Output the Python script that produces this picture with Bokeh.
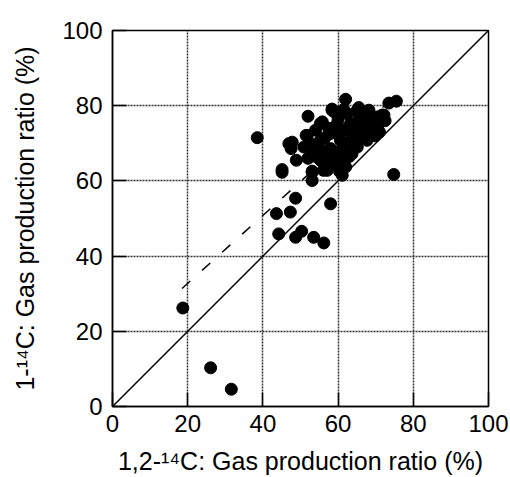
from bokeh.plotting import figure
from bokeh.embed import file_html
from bokeh.resources import INLINE
from bokeh.models import Range1d, FixedTicker

x_vals = [18.7, 26.1, 31.6, 38.5, 74.8, 73.5, 75.5, 62.0,
          45.1, 53.1, 56.1, 53.1, 48.7, 43.6, 47.3, 44.2, 48.7, 50.3, 53.5, 56.2, 58.0,
          61.1, 60.4, 52.0, 51.5, 47.2, 47.5, 48.9, 45.1, 55.8, 58.4, 54.0,
          58.4, 68.2, 72.2, 65.5, 63.7, 58.0, 59.8, 46.9, 47.8, 53.1, 56.2,
          58.0, 60.6, 50.9, 51.8, 55.3, 58.9, 55.3, 53.5, 54.4, 57.1, 63.3, 62.4,
          65.1, 67.7, 70.4, 71.7, 68.6, 66.8, 67.7, 65.1, 63.3, 60.6, 58.0, 59.8,
          65.1, 61.5, 63.3, 66.0, 70.4, 66.4, 55.3, 58.9, 62.0, 57.1, 69.9, 64.0,
          61.0, 56.5, 52.5, 60.0, 64.5, 68.0, 70.0, 72.5, 62.5, 59.0, 54.5, 57.5,
          63.0, 66.5, 69.0, 71.0, 60.5, 56.0, 52.0, 67.0, 65.5, 61.5, 64.0]
y_vals = [26.2, 10.3, 4.6, 71.5, 61.7, 80.7, 81.2, 81.7,
          62.3, 62.3, 62.8, 60.1, 55.4, 51.3, 51.7, 45.9, 45.0, 46.6, 45.0, 43.5, 53.9,
          61.5, 62.5, 77.2, 72.1, 69.9, 68.6, 65.5, 63.0, 75.7, 78.8, 73.5,
          79.1, 78.8, 77.5, 77.5, 67.2, 68.6, 73.0, 69.9, 70.3, 62.6, 63.0,
          65.0, 66.3, 69.0, 72.1, 75.3, 78.4, 70.8, 67.7, 66.3, 68.1, 70.8, 77.9,
          78.8, 78.4, 77.0, 77.5, 74.3, 71.7, 70.8, 69.0, 68.1, 70.8, 72.6, 75.3,
          75.3, 73.5, 75.3, 73.5, 74.3, 77.0, 65.5, 64.6, 63.7, 62.8, 72.0, 72.5,
          68.5, 71.5, 70.0, 76.5, 74.0, 76.0, 75.5, 76.0, 69.5, 67.0, 69.0, 74.0,
          66.5, 72.8, 73.5, 73.0, 64.0, 66.5, 66.0, 75.0, 79.5, 79.0, 71.0]

ref_x = [0, 100]
ref_y = [0, 100]
fit_x = [18.5, 73.0]
fit_y = [31.4, 80.6]

ticks = [0, 20, 40, 60, 80, 100]

FONT = "Liberation Sans"

p = figure(width=510, height=477, output_backend="svg", toolbar_location=None,
           x_range=Range1d(0, 100), y_range=Range1d(0, 100),
           min_border_left=112, min_border_right=22, min_border_top=30,
           min_border_bottom=71)

p.background_fill_color = "white"
p.border_fill_color = "white"
p.outline_line_color = "black"
p.outline_line_width = 1.5

for ax in (p.xaxis, p.yaxis):
    ax.ticker = FixedTicker(ticks=ticks)
    ax.major_tick_in = 14
    ax.major_tick_out = 0
    ax.minor_tick_line_color = None
    ax.major_tick_line_color = "black"
    ax.major_tick_line_width = 1.5
    ax.axis_line_color = "black"
    ax.axis_line_width = 1.5
    ax.major_label_text_font = FONT
    ax.major_label_text_font_size = "24px"
    ax.major_label_text_color = "black"
    ax.axis_label_text_font = FONT
    ax.axis_label_text_font_size = "25px"
    ax.axis_label_text_font_style = "normal"
    ax.axis_label_text_color = "black"

p.xaxis.major_label_standoff = 8
p.yaxis.major_label_standoff = 10
p.xaxis.axis_label = "1,2-\u00b9\u2074C: Gas production ratio (%)"
p.yaxis.axis_label = "1-\u00b9\u2074C: Gas production ratio (%)"
p.xaxis.axis_label_standoff = 12
p.yaxis.axis_label_standoff = 20

p.grid.ticker = FixedTicker(ticks=[20, 40, 60, 80])
p.grid.grid_line_color = "#333333"
p.grid.grid_line_width = 1.5
p.grid.grid_line_dash = "2 1"

p.line(ref_x, ref_y, line_color="black", line_width=1.5)
p.line(fit_x, fit_y, line_color="black", line_width=1.5, line_dash="11 16")
p.scatter(x_vals, y_vals, size=12, fill_color="black", line_color="black")

open("out.html", "w").write(file_html(p, INLINE))
